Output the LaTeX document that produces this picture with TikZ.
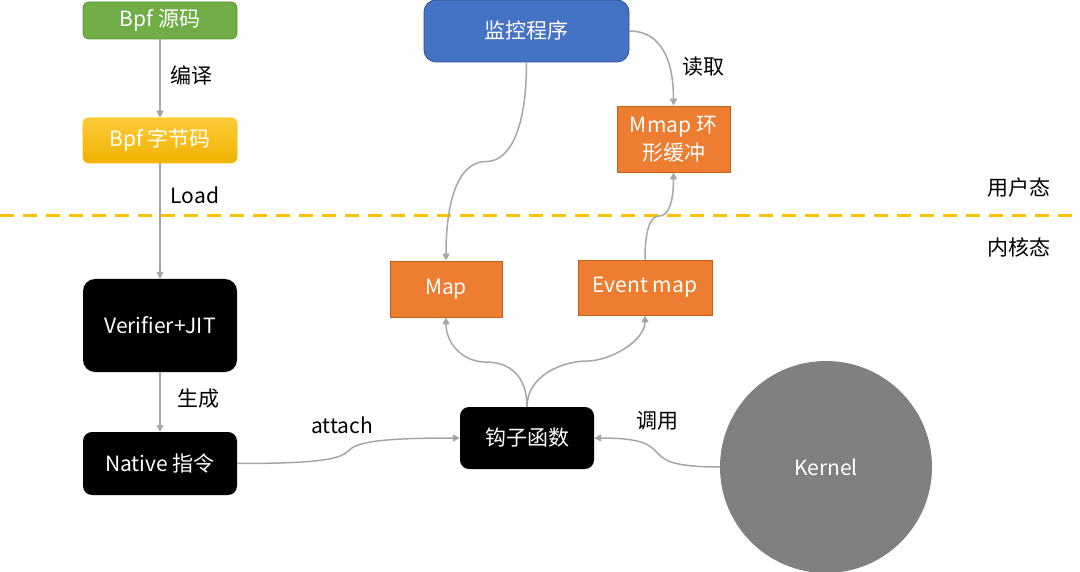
\documentclass[tikz,border=0pt]{standalone}
\usepackage{fontspec}
\setmainfont{Noto Sans CJK SC}
\usetikzlibrary{arrows.meta,calc}
\definecolor{cgreen}{HTML}{70AD47}
\definecolor{cgreenb}{HTML}{5A9236}
\definecolor{cgold}{HTML}{FFC000}
\definecolor{cgoldt}{HTML}{FFCA3A}
\definecolor{cgoldb}{HTML}{EDB300}
\definecolor{cblue}{HTML}{4472C4}
\definecolor{cblueb}{HTML}{2F528F}
\definecolor{corange}{HTML}{ED7D31}
\definecolor{corangeb}{HTML}{C0601F}
\definecolor{cline}{HTML}{A6A6A6}
\definecolor{cgrey}{HTML}{808080}
\begin{document}
\begin{tikzpicture}[x=1pt,y=-1pt,
  every node/.style={font=\fontsize{21}{25}\selectfont},
  box/.style={minimum width=#1,inner sep=0pt,text=white,align=center},
  conn/.style={draw=cline,line width=1.5pt,-{Triangle[length=7pt,width=7pt]}},
  lbl/.style={text=black}]
\useasboundingbox (0,0) rectangle (1080,572);
\fill[white] (0,0) rectangle (1080,572);
% nodes
\node[box=154pt,minimum height=37pt,fill=cgreen,draw=cgreenb,line width=0.8pt,rounded corners=6pt] (src) at (160,20.5) {Bpf 源码};
\node[box=154pt,minimum height=45pt,top color=cgoldt,bottom color=cgoldb,draw=cgold,line width=0.8pt,rounded corners=6pt] (byte) at (160,140.5) {Bpf 字节码};
\node[box=154pt,minimum height=93pt,fill=black,rounded corners=12pt] (vjit) at (160,325.5) {Verifier+JIT};
\node[box=154pt,minimum height=63pt,fill=black,rounded corners=9pt] (native) at (160,463.5) {Native 指令};
\node[box=134pt,minimum height=62pt,fill=black,rounded corners=9pt] (hook) at (527,438) {钩子函数};
\node[circle,fill=cgrey,minimum size=212pt,inner sep=0pt,text=white] (kernel) at (826,467) {Kernel};
\node[box=112pt,minimum height=56pt,fill=corange,draw=corangeb,line width=0.8pt] (map) at (446,289) {Map};
\node[box=134pt,minimum height=55pt,fill=corange,draw=corangeb,line width=0.8pt] (emap) at (645,287.5) {Event map};
\node[box=113pt,minimum height=66pt,fill=corange,draw=corangeb,line width=0.8pt,font=\fontsize{21}{28}\selectfont] (mmap) at (673.5,139) {Mmap 环\\形缓冲};
\node[box=205pt,minimum height=62pt,fill=cblue,draw=cblueb,line width=0.8pt,rounded corners=12pt] (mon) at (526.5,31) {监控程序};
% labels
\node[lbl] (l1) at (191,75) {编译};
\node[lbl] (l2) at (195,195) {Load};
\node[lbl] (l3) at (198,399) {生成};
\node[lbl] (l4) at (342,425) {attach};
\node[lbl] (l5) at (657,421) {调用};
\node[lbl] (l6) at (703,67) {读取};
\node[lbl] (u1) at (1019,188) {用户态};
\node[lbl] (u2) at (1019,247) {内核态};
% dashed separator
\coordinate (dl) at (0,216);
\coordinate (dr) at (1080,216);
\draw[cgold,line width=3pt,dash pattern=on 14pt off 9pt] (dl) -- (dr);
% connectors
\draw[conn] (src) -- (byte);
\draw[conn] (byte) -- (vjit);
\draw[conn] (vjit) -- (native);
\coordinate (m1) at ($(mon.south)!0.5!(map.north)$);
\draw[conn] (mon.south) .. controls +(0,70) and +(22,0) .. (m1) .. controls +(-30,0) and +(0,-55) .. (map.north);
\draw[conn] (mon.east) .. controls +(32,0) and +(0,-45) .. (mmap.north);
\coordinate (m2) at ($(emap.north)!0.5!(mmap.south)$);
\draw[conn] (emap.north) .. controls +(0,-30) and +(-9,0) .. (m2) .. controls +(10,0) and +(0,28) .. (mmap.south);
\coordinate (m3) at ($(hook.north)!0.5!(map.south)$);
\draw[conn] (hook.north) .. controls +(0,-32) and +(22,0) .. (m3) .. controls +(-25,0) and +(0,25) .. (map.south);
\coordinate (m6) at ($(hook.north)!0.5!(emap.south)$);
\draw[conn] (hook.north) .. controls +(0,-32) and +(-22,0) .. (m6) .. controls +(25,0) and +(0,25) .. (emap.south);
\coordinate (m4) at ($(native.east)!0.5!(hook.west)$);
\draw[conn] (native.east) .. controls +(85,0) and +(-8,8) .. (m4) .. controls +(8,-8) and +(-85,0) .. (hook.west);
\coordinate (m5) at ($(kernel.west)!0.5!(hook.east)$);
\draw[conn] (kernel.west) .. controls +(-50,0) and +(7,7) .. (m5) .. controls +(-7,-7) and +(50,0) .. (hook.east);
\end{tikzpicture}
\end{document}
